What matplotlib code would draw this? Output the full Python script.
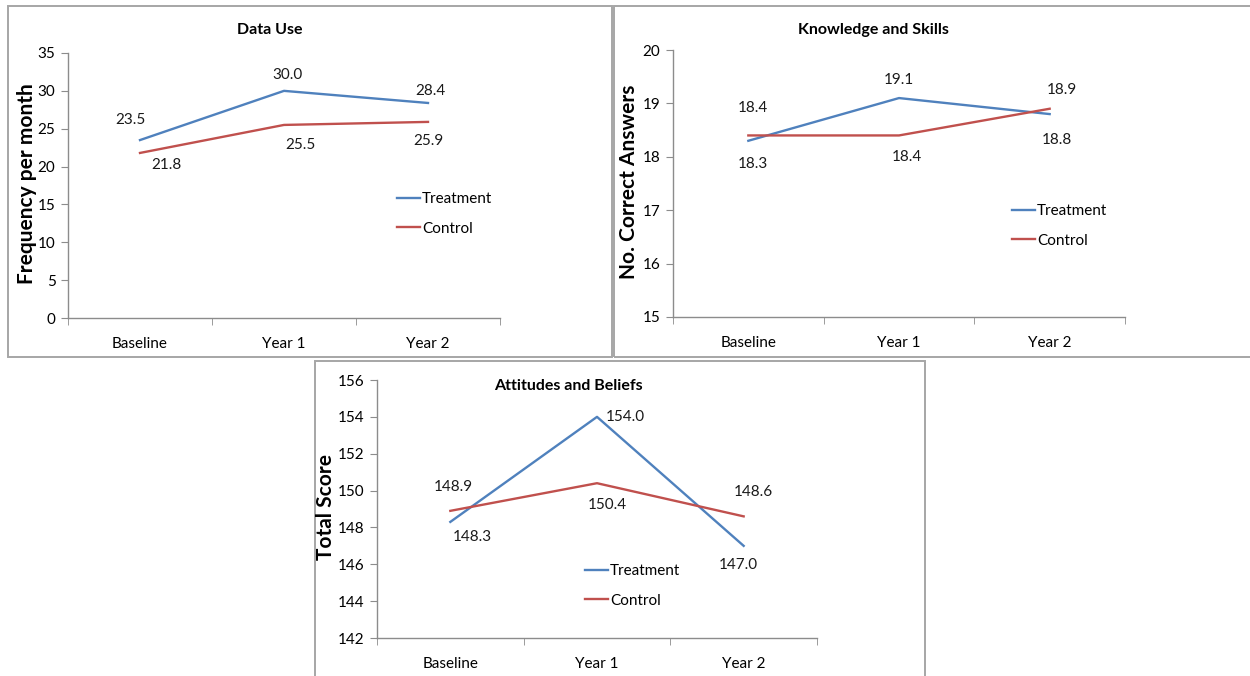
import matplotlib.pyplot as plt
from matplotlib.patches import Rectangle

plt.rcParams['font.family'] = ['Lato', 'DejaVu Sans']

W, H = 1250, 676

# Shared categories and series names
years = ['Baseline', 'Year 1', 'Year 2']
series = ['Treatment', 'Control']

# Data Use
use_treat = [23.5, 30.0, 28.4]
use_ctrl = [21.8, 25.5, 25.9]

# Knowledge and Skills
know_treat = [18.3, 19.1, 18.8]
know_ctrl = [18.4, 18.4, 18.9]

# Attitudes and Beliefs
att_treat = [148.3, 154.0, 147.0]
att_ctrl = [148.9, 150.4, 148.6]

BLUE = '#4F81BD'
RED = '#C0504D'
GREY = '#8c8c8c'

fig = plt.figure(figsize=(W / 100, H / 100), dpi=100)


def px_box(left, top, right, bottom):
    return [left / W, 1 - bottom / H, (right - left) / W, (bottom - top) / H]


# panel frames
for l, t, r, b in [(8, 6, 612, 357), (614, 6, 1252, 357), (315, 361, 925, 678)]:
    fig.add_artist(Rectangle((l / W, 1 - b / H), (r - l) / W, (b - t) / H,
                             transform=fig.transFigure, fill=False,
                             edgecolor='#a6a6a6', linewidth=1.4))

panels = [
    dict(box=(68, 53, 500, 318), data=(use_treat, use_ctrl), ylim=(0, 35), step=5,
         title='Data Use', title_xy=(270, 30), ylabel='Frequency per month', ylabel_x=27,
         legend_xy=(397, 214),
         offsets=([(-10, 20), (3, 16), (2, 12)], [(26, -12), (16, -20), (0, -19)])),
    dict(box=(673, 50, 1125, 317), data=(know_treat, know_ctrl), ylim=(15, 20), step=1,
         title='Knowledge and Skills', title_xy=(873, 30), ylabel='No. Correct Answers', ylabel_x=629,
         legend_xy=(1012, 226),
         offsets=([(5, -23), (0, 18), (7, -26)], [(5, 27), (8, -22), (12, 19)])),
    dict(box=(377, 380, 817, 638), data=(att_treat, att_ctrl), ylim=(142, 156), step=2,
         title='Attitudes and Beliefs', title_xy=(568, 386), ylabel='Total Score', ylabel_x=326,
         legend_xy=(585, 586),
         offsets=([(22, -15), (28, 0), (-5, -19)], [(3, 24), (10, -22), (10, 24)])),
]

x = range(len(years))
for p in panels:
    l, t, r, b = p['box']
    ax = fig.add_axes(px_box(l, t, r, b))
    lines = []
    for vals, col, name, offs in zip(p['data'], [BLUE, RED], series, p['offsets']):
        ln, = ax.plot(x, vals, color=col, linewidth=1.7, label=name)
        lines.append(ln)
        for xi, v, (dx, dy) in zip(x, vals, offs):
            ax.annotate(f'{v:.1f}', (xi, v), xytext=(dx, dy), textcoords='offset pixels',
                        ha='center', va='center', fontsize=11, color='#1a1a1a')
    lo, hi = p['ylim']
    ax.set_ylim(lo, hi)
    ax.set_xlim(-0.5, 2.5)
    ax.set_yticks(range(lo, hi + 1, p['step']))
    ax.set_xticks(list(x))
    ax.set_xticklabels(years)
    ax.set_xticks([-0.5, 0.5, 1.5, 2.5], minor=True)
    ax.tick_params(axis='x', which='major', length=0, pad=14, labelsize=11)
    ax.tick_params(axis='x', which='minor', length=5, color=GREY, direction='out')
    ax.tick_params(axis='y', length=5, color=GREY, labelsize=11, pad=4)
    for s in ['top', 'right']:
        ax.spines[s].set_visible(False)
    for s in ['left', 'bottom']:
        ax.spines[s].set_color(GREY)
        ax.spines[s].set_linewidth(1)
    ax.set_facecolor('none')

    fig.text(p['title_xy'][0] / W, 1 - p['title_xy'][1] / H, p['title'],
             ha='center', va='center', fontsize=11.5, fontweight='bold')
    fig.text(p['ylabel_x'] / W, 1 - ((t + b) / 2 - 2) / H, p['ylabel'],
             ha='center', va='center', rotation=90, fontsize=15, fontweight='bold')
    lx, ly = p['legend_xy']
    ax.legend(handles=lines, loc='center left', bbox_to_anchor=(lx / W, 1 - ly / H),
              bbox_transform=fig.transFigure, frameon=False, fontsize=11,
              handlelength=1.5, handletextpad=0.15, labelspacing=1.0,
              borderpad=0, borderaxespad=0)

fig.savefig('out.png', dpi=100)
